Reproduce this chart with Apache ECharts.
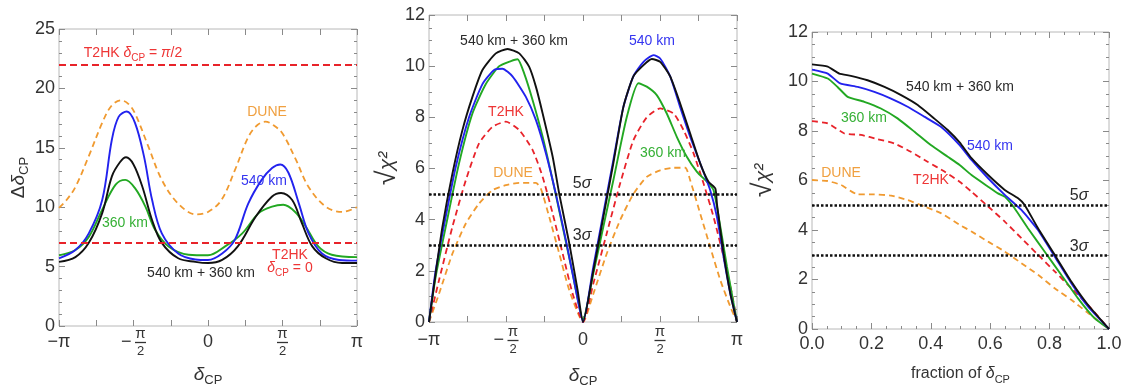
<!DOCTYPE html>
<html lang="en">
<head>
  <meta charset="UTF-8">
  <title>CP violation sensitivity</title>
  <style>html, body { margin: 0; padding: 0; background: #fff; }</style>
</head>
<body>
  <div id="chart" style="width: 1133px; height: 387px;"></div>
  <script src="https://cdn.jsdelivr.net/npm/echarts@6/dist/echarts.min.js"></script>
  <script>
    // ---- data (x in units of pi for panels 1 and 2) ----

    // panel 1: precision on delta_CP
    const p1Dune = [[-1,9.95],[-0.95,10.6],[-0.89,11.7],[-0.8,14.3],[-0.71,17.1],[-0.65,18.5],[-0.585,19.0],[-0.535,18.7],[-0.49,17.9],[-0.4,15.1],[-0.31,12.3],[-0.2,10.3],[-0.08,9.4],[0,9.6],[0.09,10.6],[0.18,13.1],[0.27,15.9],[0.33,16.9],[0.385,17.2],[0.44,16.9],[0.5,16.2],[0.59,14.0],[0.675,11.7],[0.79,10.05],[0.9,9.6],[1,10.0]];
    const p1Km540 = [[-1,5.7],[-0.89,6.4],[-0.8,7.8],[-0.71,10.6],[-0.645,15.7],[-0.6,17.6],[-0.545,18.05],[-0.49,17.1],[-0.43,14.3],[-0.375,10.6],[-0.31,7.8],[-0.2,6.1],[-0.085,5.6],[0,5.55],[0.095,6.1],[0.18,7.25],[0.27,10.3],[0.36,12.3],[0.43,13.3],[0.485,13.6],[0.54,12.9],[0.61,10.3],[0.675,7.8],[0.765,6.1],[0.88,5.56],[1,5.5]];
    const p1Km360 = [[-1,5.95],[-0.89,6.4],[-0.8,7.5],[-0.71,9.8],[-0.62,11.9],[-0.555,12.3],[-0.49,11.6],[-0.42,10.05],[-0.355,8.1],[-0.265,6.7],[-0.13,6.0],[0,5.95],[0.115,6.7],[0.23,7.8],[0.34,9.5],[0.43,10.05],[0.505,10.2],[0.585,9.6],[0.655,8.4],[0.74,6.7],[0.83,6.0],[1,5.8]];
    const p1Both = [[-1,5.4],[-0.89,5.8],[-0.8,7.0],[-0.71,9.5],[-0.645,12.6],[-0.59,13.8],[-0.55,14.2],[-0.5,13.6],[-0.44,11.7],[-0.375,8.9],[-0.31,7.0],[-0.2,5.7],[-0.085,5.4],[0,5.3],[0.095,5.56],[0.2,6.7],[0.32,9.2],[0.43,10.9],[0.49,11.2],[0.565,10.6],[0.63,8.65],[0.7,6.7],[0.79,5.7],[0.9,5.3],[1,5.3]];
    const p1T2hkLines = [22, 7];

    // panel 2: sqrt(chi^2) vs delta_CP
    const p2Both = [[-1,0],[-0.957,1.89],[-0.913,3.72],[-0.848,5.8],[-0.783,7.5],[-0.718,8.8],[-0.653,9.85],[-0.566,10.5],[-0.49,10.67],[-0.414,10.5],[-0.35,9.98],[-0.306,9.2],[-0.262,8.15],[-0.197,6.46],[-0.154,5.0],[-0.089,3.07],[-0.035,1.24],[0,0],[0.067,2.0],[0.132,4.1],[0.197,6.2],[0.262,8.4],[0.327,9.6],[0.393,10.04],[0.447,10.28],[0.501,10.17],[0.566,9.6],[0.631,8.54],[0.696,7.37],[0.761,6.2],[0.815,5.48],[0.859,5.22],[0.87,4.6],[0.913,2.67],[0.957,1.1],[1,0]];
    const p2Km540 = [[-1,0],[-0.957,2.0],[-0.892,4.1],[-0.826,6.07],[-0.74,8.0],[-0.653,9.3],[-0.577,9.85],[-0.523,9.9],[-0.458,9.6],[-0.371,8.8],[-0.306,7.9],[-0.241,6.6],[-0.176,5.0],[-0.111,3.2],[-0.046,1.24],[0,0],[0.067,2.15],[0.132,4.24],[0.197,6.33],[0.262,8.4],[0.327,9.6],[0.393,10.17],[0.458,10.43],[0.501,10.3],[0.566,9.6],[0.631,8.4],[0.696,7.24],[0.761,6.2],[0.826,5.15],[0.87,4.1],[0.913,2.54],[0.957,1.1],[1,0]];
    const p2Km360 = [[-1,0],[-0.957,1.76],[-0.892,3.7],[-0.805,6.2],[-0.718,8.15],[-0.631,9.3],[-0.544,10.0],[-0.468,10.2],[-0.425,10.27],[-0.381,9.7],[-0.327,8.67],[-0.262,7.24],[-0.197,5.54],[-0.132,3.72],[-0.067,1.89],[0,0.1],[0.067,1.89],[0.132,3.72],[0.197,5.54],[0.284,8.0],[0.36,9.33],[0.414,9.2],[0.479,8.87],[0.544,8.15],[0.609,7.24],[0.674,6.46],[0.74,5.87],[0.805,5.48],[0.848,5.15],[0.892,3.72],[0.935,2.15],[0.978,0.72],[1,0]];
    const p2T2hk = [[-1,0],[-0.935,1.63],[-0.848,3.72],[-0.761,5.54],[-0.675,6.98],[-0.588,7.63],[-0.501,7.83],[-0.414,7.5],[-0.327,6.72],[-0.262,5.67],[-0.197,4.24],[-0.132,2.67],[-0.067,1.1],[0,0],[0.067,1.5],[0.154,3.46],[0.241,5.41],[0.327,7.1],[0.414,8.0],[0.501,8.35],[0.588,8.15],[0.653,7.5],[0.718,6.59],[0.783,5.41],[0.848,4.1],[0.913,2.54],[0.967,1.1],[1,0]];
    const p2Dune = [[-1,0],[-0.935,1.1],[-0.848,2.67],[-0.761,3.85],[-0.675,4.63],[-0.588,5.15],[-0.501,5.35],[-0.414,5.44],[-0.306,5.44],[-0.273,5.2],[-0.219,4.1],[-0.154,2.67],[-0.089,1.24],[0,0],[0.067,1.1],[0.154,2.67],[0.241,3.98],[0.327,5.0],[0.414,5.67],[0.501,5.93],[0.588,6.03],[0.664,6.03],[0.696,5.54],[0.761,4.24],[0.826,2.93],[0.892,1.63],[0.957,0.59],[1,0]];

    // panel 3: sqrt(chi^2) vs fraction of delta_CP
    const p3Both = [[0,10.69],[0.053,10.6],[0.092,10.32],[0.131,10.23],[0.187,10.05],[0.244,9.78],[0.3,9.45],[0.356,9.05],[0.412,8.5],[0.457,8.04],[0.497,7.54],[0.537,6.9],[0.593,6.22],[0.649,5.62],[0.694,5.28],[0.716,5.01],[0.761,4.07],[0.817,3.0],[0.873,1.92],[0.929,0.98],[1,0]];
    const p3Km540 = [[0,10.48],[0.053,10.32],[0.095,9.92],[0.154,9.78],[0.21,9.58],[0.266,9.31],[0.322,8.98],[0.378,8.58],[0.434,8.17],[0.497,7.43],[0.537,6.83],[0.593,6.09],[0.649,5.42],[0.705,4.81],[0.761,4.0],[0.817,2.93],[0.873,1.85],[0.929,0.91],[1,0]];
    const p3Km360 = [[0,10.32],[0.053,10.12],[0.086,9.78],[0.12,9.38],[0.176,9.18],[0.232,8.91],[0.288,8.51],[0.345,7.97],[0.4,7.43],[0.457,6.96],[0.497,6.63],[0.537,6.22],[0.593,5.75],[0.626,5.48],[0.649,5.35],[0.682,4.88],[0.727,4.07],[0.783,3.13],[0.839,2.19],[0.895,1.25],[0.951,0.44],[1,0]];
    const p3T2hk = [[0,8.4],[0.053,8.31],[0.109,7.9],[0.165,7.84],[0.221,7.67],[0.277,7.5],[0.333,7.16],[0.389,6.76],[0.446,6.36],[0.497,5.95],[0.537,5.55],[0.593,4.95],[0.649,4.34],[0.705,3.67],[0.761,3.0],[0.817,2.33],[0.873,1.65],[0.929,0.98],[1,0]];
    const p3Dune = [[0,6.02],[0.053,5.98],[0.098,5.82],[0.154,5.44],[0.21,5.44],[0.266,5.39],[0.322,5.21],[0.378,4.95],[0.434,4.68],[0.497,4.21],[0.537,3.94],[0.593,3.53],[0.649,3.13],[0.705,2.66],[0.761,2.19],[0.817,1.65],[0.873,1.18],[0.929,0.65],[1,0]];
    const sigmaLines = [5, 3];

    // ---- styling ----
    const FONT = 'Liberation Sans, Arial, sans-serif';
    const COL = { black: '#111111', blue: '#2222ee', green: '#22a822', red: '#e8232a', orange: '#f09a30' };
    const TXT = { black: '#2a2a2a', blue: '#3535f0', green: '#35b035', red: '#ee3535', orange: '#f0a040' };
    const TICK = '#8a8a8a';

    const chart = echarts.init(document.getElementById('chart'), null, { renderer: 'canvas' });

    const piLabel = v => {
      if (Math.abs(v + 1) < 1e-6) return '{s|−π}';
      if (Math.abs(v - 1) < 1e-6) return '{s|π}';
      if (Math.abs(v) < 1e-6) return '{s|0}';
      if (Math.abs(v + 0.5) < 1e-6) return '{pad| }{n|π}\n{m|−}{bar| }\n{pad| }{d|2}';
      if (Math.abs(v - 0.5) < 1e-6) return '{n|π}\n{bar| }\n{d|2}';
      return '';
    };
    const piRich = {
      s: { fontSize: 18, color: '#333', fontFamily: FONT, lineHeight: 31 },
      n: { fontSize: 15, color: '#333', fontFamily: FONT, lineHeight: 13, width: 11, align: 'center' },
      d: { fontSize: 13, color: '#333', fontFamily: FONT, lineHeight: 13, width: 11, align: 'center' },
      m: { fontSize: 18, color: '#333', fontFamily: FONT, lineHeight: 5, width: 14, align: 'left' },
      pad: { fontSize: 10, lineHeight: 13, width: 14 },
      bar: { fontSize: 2, lineHeight: 5, width: 11, height: 1.3, backgroundColor: '#333' }
    };

    const nameRich = size => ({
      n: { fontSize: size, color: '#333', fontFamily: FONT, lineHeight: size + 6 },
      i: { fontSize: size, color: '#333', fontFamily: FONT, fontStyle: 'italic', lineHeight: size + 6 },
      s: { fontSize: Math.round(size * 0.68), color: '#333', fontFamily: FONT, verticalAlign: 'bottom', lineHeight: Math.round(size * 0.68) },
      r: { fontSize: size + 8, color: '#333', fontFamily: FONT, lineHeight: size + 6 },
      c: { fontSize: size + 2, color: '#333', fontFamily: FONT, fontStyle: 'italic', lineHeight: size + 6 }
    });

    const grids = [
      { left: 59, top: 29, width: 298, height: 297 },
      { left: 429, top: 15, width: 308, height: 307 },
      { left: 812, top: 32, width: 297, height: 297 }
    ].map(g => Object.assign(g, { show: true, borderColor: '#b8b8b8', borderWidth: 1,
      backgroundColor: 'transparent', containLabel: false, outerBoundsMode: 'none' }));

    const tick = { show: true, inside: true, length: 6, lineStyle: { color: TICK, width: 1 } };
    const minor = n => ({ show: true, splitNumber: n, length: 3, lineStyle: { color: TICK, width: 1 } });
    const noLine = { show: false, onZero: false };

    const xSpecs = [
      { min: -1, max: 1, interval: 0.25, minor: null, formatter: piLabel, rich: piRich, margin: 1,
        name: '{i|δ}{s|CP}', nameGap: 36 },
      { min: -1, max: 1, interval: 0.25, minor: null, formatter: piLabel, rich: piRich, margin: 3,
        name: '{i|δ}{s|CP}', nameGap: 41 },
      { min: 0, max: 1, interval: 0.2, minor: 4, formatter: v => v.toFixed(1), rich: null, margin: 5,
        name: '{n|fraction of }{i|δ}{s|CP}', nameGap: 34 }
    ];
    const ySpecs = [
      { min: 0, max: 25, interval: 5, minor: 5, name: '{n|Δ}{i|δ}{s|CP}', nameGap: 24 },
      { min: 0, max: 12, interval: 2, minor: 4, name: '{r|√}{c|χ²}', nameGap: 29 },
      { min: 0, max: 12, interval: 2, minor: 4, name: '{r|√}{c|χ²}', nameGap: 36 }
    ];

    const xAxes = [], yAxes = [];
    xSpecs.forEach((s, i) => {
      xAxes.push({
        type: 'value', gridIndex: i, position: 'bottom', min: s.min, max: s.max, interval: s.interval,
        axisLine: noLine, splitLine: { show: false },
        axisTick: tick, minorTick: s.minor ? minor(s.minor) : { show: false },
        axisLabel: { show: true, margin: s.margin, formatter: s.formatter, rich: s.rich || undefined,
          color: '#333', fontSize: 18, fontFamily: FONT, lineHeight: 20, showMinLabel: true, showMaxLabel: true },
        name: s.name, nameLocation: 'middle', nameGap: s.nameGap,
        nameTextStyle: { rich: nameRich(i === 2 ? 16 : 19) }
      });
      xAxes.push({
        type: 'value', gridIndex: i, position: 'top', min: s.min, max: s.max, interval: s.interval,
        axisLine: noLine, splitLine: { show: false }, axisLabel: { show: false },
        axisTick: tick, minorTick: s.minor ? minor(s.minor) : { show: false }
      });
    });
    ySpecs.forEach((s, i) => {
      yAxes.push({
        type: 'value', gridIndex: i, position: 'left', min: s.min, max: s.max, interval: s.interval,
        axisLine: noLine, splitLine: { show: false },
        axisTick: tick, minorTick: minor(s.minor),
        axisLabel: { margin: 4, color: '#333', fontSize: 18, fontFamily: FONT },
        name: s.name, nameLocation: 'middle', nameGap: s.nameGap, nameRotate: 90,
        nameTextStyle: { rich: nameRich(19) }
      });
      yAxes.push({
        type: 'value', gridIndex: i, position: 'right', min: s.min, max: s.max, interval: s.interval,
        axisLine: noLine, splitLine: { show: false }, axisLabel: { show: false },
        axisTick: tick, minorTick: minor(s.minor)
      });
    });

    const curve = (panel, data, color, dashed, smooth) => ({
      type: 'line', xAxisIndex: panel * 2, yAxisIndex: panel * 2, data,
      showSymbol: false, smooth, silent: true, z: dashed ? 3 : 4,
      lineStyle: { color, width: dashed ? 1.8 : 1.9, type: dashed ? [6, 4] : 'solid' }
    });
    const hlines = (panel, values, color, type, width) => ({
      type: 'line', xAxisIndex: panel * 2, yAxisIndex: panel * 2, data: [], silent: true,
      markLine: { symbol: 'none', silent: true, animation: false, label: { show: false },
        lineStyle: { color, type, width }, data: values.map(v => ({ yAxis: v })) }
    });

    const series = [
      hlines(0, p1T2hkLines, COL.red, [7, 4], 2),
      curve(0, p1Dune, COL.orange, true, 0.35),
      curve(0, p1Km360, COL.green, false, 0.35),
      curve(0, p1Km540, COL.blue, false, 0.35),
      curve(0, p1Both, COL.black, false, 0.35),

      hlines(1, sigmaLines, '#111', [2.5, 2], 2.5),
      curve(1, p2Dune, COL.orange, true, 0.2),
      curve(1, p2T2hk, COL.red, true, 0.2),
      curve(1, p2Km360, COL.green, false, 0.2),
      curve(1, p2Km540, COL.blue, false, 0.2),
      curve(1, p2Both, COL.black, false, 0.2),

      hlines(2, sigmaLines, '#111', [2.5, 2], 2.5),
      curve(2, p3Dune, COL.orange, true, 0.15),
      curve(2, p3T2hk, COL.red, true, 0.15),
      curve(2, p3Km360, COL.green, false, 0.15),
      curve(2, p3Km540, COL.blue, false, 0.15),
      curve(2, p3Both, COL.black, false, 0.15)
    ];

    // annotation text
    const annRich = (color, size) => ({
      n: { fill: color, fontSize: size, fontFamily: FONT, lineHeight: size + 6 },
      i: { fill: color, fontSize: size, fontFamily: FONT, fontStyle: 'italic', lineHeight: size + 6 },
      s: { fill: color, fontSize: Math.round(size * 0.7), fontFamily: FONT, verticalAlign: 'bottom', lineHeight: Math.round(size * 0.7) }
    });
    const note = (x, y, text, color, size) => ({
      type: 'text', x, y, silent: true, z: 100,
      style: { text, rich: annRich(color, size || 14), fill: color, fontSize: size || 14, fontFamily: FONT,
        align: 'center', verticalAlign: 'middle', textAlign: 'center', textVerticalAlign: 'middle' }
    });

    const graphic = [
      note(133, 53, '{n|T2HK }{i|δ}{s|CP}{n| = }{i|π}{n|/2}', TXT.red),
      note(267, 112, '{n|DUNE}', TXT.orange),
      note(264, 181, '{n|540 km}', TXT.blue),
      note(125, 223, '{n|360 km}', TXT.green),
      note(201, 273, '{n|540 km + 360 km}', TXT.black),
      note(290, 255, '{n|T2HK}', TXT.red),
      note(290, 268, '{i|δ}{s|CP}{n| = 0}', TXT.red),

      note(514, 41, '{n|540 km + 360 km}', TXT.black),
      note(652, 41, '{n|540 km}', TXT.blue),
      note(506, 112, '{n|T2HK}', TXT.red),
      note(513, 173, '{n|DUNE}', TXT.orange),
      note(663, 153, '{n|360 km}', TXT.green),
      note(582, 184, '{n|5}{i|σ}', TXT.black, 16),
      note(582, 236, '{n|3}{i|σ}', TXT.black, 16),

      note(960, 87, '{n|540 km + 360 km}', TXT.black),
      note(864, 118, '{n|360 km}', TXT.green),
      note(990, 146, '{n|540 km}', TXT.blue),
      note(841, 173, '{n|DUNE}', TXT.orange),
      note(931, 180, '{n|T2HK}', TXT.red),
      note(1079, 196, '{n|5}{i|σ}', TXT.black, 16),
      note(1079, 247, '{n|3}{i|σ}', TXT.black, 16)
    ];

    chart.setOption({
      animation: false,
      backgroundColor: '#ffffff',
      grid: grids,
      xAxis: xAxes,
      yAxis: yAxes,
      series,
      graphic
    });
  </script>
</body>
</html>
